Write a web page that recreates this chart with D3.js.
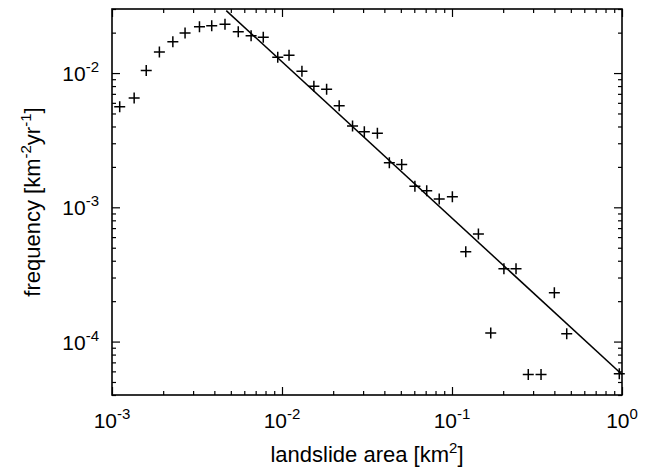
<!DOCTYPE html>
<html>
<head>
<meta charset="utf-8">
<script src="https://cdn.jsdelivr.net/npm/d3@7"></script>
<style>
  body { margin: 0; background: #fff; }
  text { font-family: "Liberation Sans", Arial, sans-serif; fill: #000; }
</style>
</head>
<body>
<div id="chart"></div>
<script>
// landslide area bins [km^2]
const areas = [0.00111, 0.00135, 0.00159, 0.0019, 0.00228, 0.00269, 0.00327, 0.00386, 0.00462, 0.00553,
  0.00658, 0.00776, 0.00944, 0.0110, 0.0131, 0.0154, 0.0183, 0.0217, 0.0260, 0.0305,
  0.0364, 0.0428, 0.0506, 0.0605, 0.0710, 0.0841, 0.1005, 0.1205, 0.143, 0.169,
  0.202, 0.238, 0.281, 0.334, 0.400, 0.473, 0.964];
// frequency [km^-2 yr^-1]
const freqs = [0.00561, 0.00653, 0.01047, 0.01435, 0.01714, 0.01987, 0.02213, 0.02248, 0.0231, 0.0203,
  0.01895, 0.01845, 0.01312, 0.01359, 0.0103, 0.00798, 0.00758, 0.00571, 0.00404, 0.00365,
  0.00356, 0.00215, 0.00208, 0.001438, 0.001328, 0.001153, 0.0012, 0.000466, 0.000633, 0.0001156,
  0.000349, 0.000349, 0.0000569, 0.0000569, 0.000231, 0.0001142, 0.0000575];
// power-law fit line endpoints
const fitX = [0.0047, 1.0];
const fitY = [0.0292, 0.0000569];

const xTicks = [1e-3, 1e-2, 1e-1, 1];
const xTickExp = ["-3", "-2", "-1", "0"];
const yTicks = [1e-2, 1e-3, 1e-4];
const yTickExp = ["-2", "-3", "-4"];

const W = 651, H = 468;
const margin = { top: 9, right: 29, bottom: 73, left: 112 };
const width = W - margin.left - margin.right;
const height = H - margin.top - margin.bottom;

const svg = d3.select("#chart").append("svg")
  .attr("width", W).attr("height", H);
const g = svg.append("g")
  .attr("transform", `translate(${margin.left},${margin.top})`);

const x = d3.scaleLog().domain([1e-3, 1]).range([0, width]);
const y = d3.scaleLog().domain([4e-5, 3e-2]).range([height, 0]);

// minor ticks (2..9 per decade)
const isMajor = v => Math.abs(Math.log10(v) - Math.round(Math.log10(v))) < 1e-6;
const xMinor = x.ticks().filter(v => !isMajor(v));
const yMinor = y.ticks().filter(v => !isMajor(v));

function tickAxis(axisFn, scale, vals, size, transform) {
  const a = g.append("g")
    .attr("transform", transform)
    .call(axisFn(scale).tickValues(vals).tickSize(size).tickFormat(""));
  a.select(".domain").remove();
  a.selectAll("line").attr("stroke", "#000").attr("stroke-width", 1.2);
}
tickAxis(d3.axisBottom, x, xTicks, -8, `translate(0,${height})`);
tickAxis(d3.axisBottom, x, xMinor, -4, `translate(0,${height})`);
tickAxis(d3.axisTop, x, xTicks, -8, "translate(0,0)");
tickAxis(d3.axisTop, x, xMinor, -4, "translate(0,0)");
tickAxis(d3.axisLeft, y, yTicks, -8, "translate(0,0)");
tickAxis(d3.axisLeft, y, yMinor, -4, "translate(0,0)");
tickAxis(d3.axisRight, y, yTicks, -8, `translate(${width},0)`);
tickAxis(d3.axisRight, y, yMinor, -4, `translate(${width},0)`);

// frame
g.append("rect")
  .attr("width", width).attr("height", height)
  .attr("fill", "none").attr("stroke", "#000").attr("stroke-width", 1.6);

// fit line (clipped to plot)
g.append("clipPath").attr("id", "clip")
  .append("rect").attr("width", width).attr("height", height);
g.append("path")
  .datum(fitX.map((v, i) => [v, fitY[i]]))
  .attr("clip-path", "url(#clip)")
  .attr("fill", "none").attr("stroke", "#000").attr("stroke-width", 1.5)
  .attr("d", d3.line().x(d => x(d[0])).y(d => y(d[1])));

// data markers "+"
const s = 5.5;
const pts = g.append("g").attr("stroke", "#000").attr("stroke-width", 1.5).attr("fill", "none");
areas.forEach((a, i) => {
  const cx = x(a), cy = y(freqs[i]);
  pts.append("path").attr("d", `M${cx - s},${cy}H${cx + s}M${cx},${cy - s}V${cy + s}`);
});

// tick labels
xTicks.forEach((v, i) => {
  const t = g.append("text")
    .attr("x", x(v)).attr("y", height + 33)
    .attr("text-anchor", "middle").style("font-size", "21px");
  t.append("tspan").text("10");
  t.append("tspan").attr("dy", -9).style("font-size", "15px").text(xTickExp[i]);
});
yTicks.forEach((v, i) => {
  const t = g.append("text")
    .attr("x", -13).attr("y", y(v) + 8)
    .attr("text-anchor", "end").style("font-size", "21px");
  t.append("tspan").text("10");
  t.append("tspan").attr("dy", -9).style("font-size", "15px").text(yTickExp[i]);
});

// axis titles
const xt = g.append("text")
  .attr("x", width / 2).attr("y", height + 67)
  .attr("text-anchor", "middle").style("font-size", "22px");
xt.append("tspan").text("landslide area [km");
xt.append("tspan").attr("dy", -9).style("font-size", "15px").text("2");
xt.append("tspan").attr("dy", 9).text("]");

const yt = g.append("text")
  .attr("transform", `translate(-72,${height / 2}) rotate(-90)`)
  .attr("text-anchor", "middle").style("font-size", "22px");
yt.append("tspan").text("frequency [km");
yt.append("tspan").attr("dy", -9).style("font-size", "15px").text("-2");
yt.append("tspan").attr("dy", 9).text("yr");
yt.append("tspan").attr("dy", -9).style("font-size", "15px").text("-1");
yt.append("tspan").attr("dy", 9).text("]");
</script>
</body>
</html>
